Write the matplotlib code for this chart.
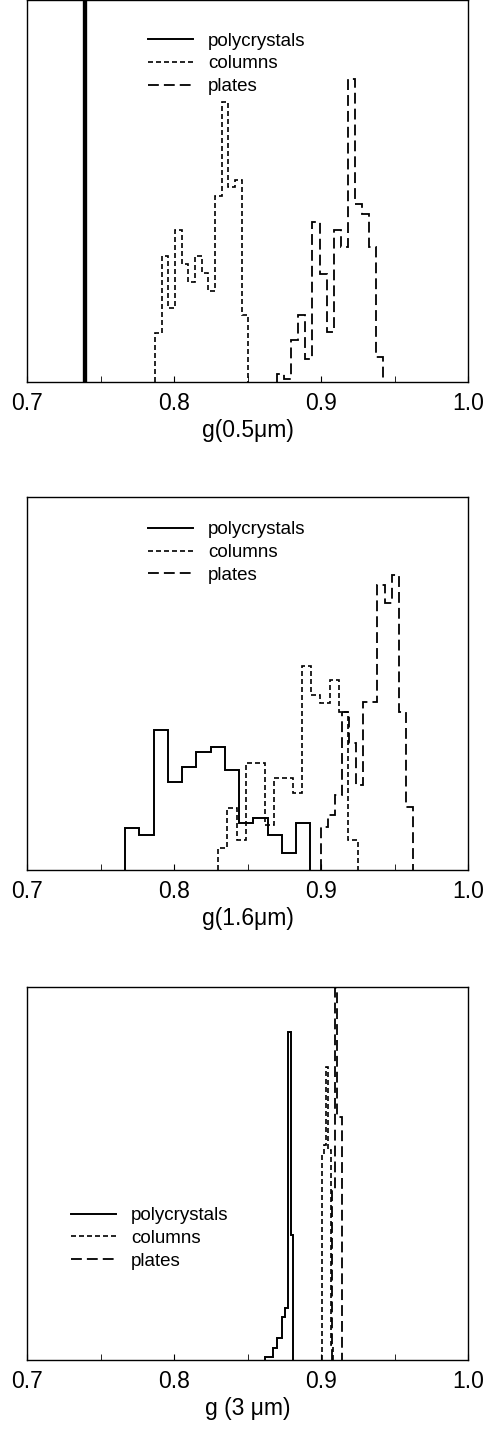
import numpy as np
import matplotlib
matplotlib.use("Agg")
import matplotlib.pyplot as plt
from matplotlib.lines import Line2D

plt.rcParams['font.family'] = ['Liberation Sans', 'DejaVu Sans']

# ---- panel 1 : g(0.5um) -------------------------------------------------
P1_POLY_EDGES = [0.7385, 0.7392]
P1_POLY_VALS = [2000]
P1_COL_START, P1_COL_WIDTH = 0.7872, 0.00452
P1_COL_VALS = [49, 126, 74, 152, 118, 100, 126, 109, 91, 186, 280, 195, 202, 67]
P1_PLA_START, P1_PLA_WIDTH = 0.8702, 0.0048
P1_PLA_VALS = [8, 3, 42, 67, 23, 160, 108, 50, 152, 135, 303, 178, 168, 135, 25]

# ---- panel 2 : g(1.6um) -------------------------------------------------
P2_POLY_START, P2_POLY_WIDTH = 0.7667, 0.0097
P2_POLY_VALS = [42, 35, 140, 88, 103, 118, 123, 100, 47, 52, 35, 17, 47]
P2_COL_START, P2_COL_WIDTH = 0.8300, 0.00633
P2_COL_VALS = [22, 62, 30, 107, 107, 45, 92, 92, 77, 204, 175, 167, 190, 158, 30]
P2_PLA_START, P2_PLA_WIDTH = 0.9000, 0.0048
P2_PLA_VALS = [43, 55, 75, 158, 127, 85, 168, 168, 285, 267, 295, 158, 63]

# ---- panel 3 : g(3um) ---------------------------------------------------
P3_POLY_EDGES = [0.8619, 0.8676, 0.8698, 0.8732, 0.8755, 0.8778, 0.8794, 0.8812]
P3_POLY_VALS = [3, 12, 22, 43, 52, 328, 125]
P3_COL_EDGES = [0.9005, 0.9020, 0.9035, 0.9050, 0.9065, 0.9080]
P3_COL_VALS = [205, 215, 293, 210, 15]
P3_PLA_EDGES = [0.9075, 0.9092, 0.9108, 0.9140]
P3_PLA_VALS = [170, 372, 243]

XLABELS = ["g(0.5\u03bcm)", "g(1.6\u03bcm)", "g (3 \u03bcm)"]
LEGEND_LABELS = ["polycrystals", "columns", "plates"]

STY_POLY = dict(color="k", lw=1.4, linestyle="-")
STY_COL = dict(color="k", lw=1.2, linestyle=(0, (3.0, 1.8)))
STY_PLA = dict(color="k", lw=1.3, linestyle=(0, (6.0, 2.8)))


def edges(start, width, n):
    return start + width * np.arange(n + 1)


fig = plt.figure(figsize=(4.89, 14.31), dpi=100)
W, H = 489.0, 1431.0


def make_ax(top_px, bot_px):
    ax = fig.add_axes([27 / W, (H - bot_px) / H, 441 / W, (bot_px - top_px) / H])
    ax.set_xlim(0.7, 1.0)
    ax.set_ylim(0, bot_px - top_px)
    ax.set_xticks([0.7, 0.8, 0.9, 1.0])
    ax.set_xticklabels(["0.7", "0.8", "0.9", "1.0"])
    ax.set_xticks([0.75, 0.85, 0.95], minor=True)
    ax.set_yticks([])
    ax.tick_params(axis="x", which="both", direction="in", length=4,
                   labelsize=16.5, pad=7, top=False)
    for s in ax.spines.values():
        s.set_linewidth(1.0)
    return ax


def add_legend(ax, loc_xy):
    handles = [Line2D([], [], **STY_POLY), Line2D([], [], **STY_COL),
               Line2D([], [], **STY_PLA)]
    ax.legend(handles, LEGEND_LABELS, loc="upper left", bbox_to_anchor=loc_xy,
              frameon=False, fontsize=13.5, handlelength=2.4,
              handletextpad=0.8, labelspacing=0.3, borderpad=0, borderaxespad=0)


# panel 1
ax1 = make_ax(0, 382)
ax1.stairs(P1_POLY_VALS, P1_POLY_EDGES, color="k", lw=2.4)
ax1.stairs(P1_COL_VALS, edges(P1_COL_START, P1_COL_WIDTH, len(P1_COL_VALS)), **STY_COL)
ax1.stairs(P1_PLA_VALS, edges(P1_PLA_START, P1_PLA_WIDTH, len(P1_PLA_VALS)), **STY_PLA)
ax1.set_xlabel(XLABELS[0], fontsize=16.5, labelpad=3)
add_legend(ax1, (0.275, 0.915))

# panel 2
ax2 = make_ax(497, 870)
ax2.stairs(P2_POLY_VALS, edges(P2_POLY_START, P2_POLY_WIDTH, len(P2_POLY_VALS)), **STY_POLY)
ax2.stairs(P2_COL_VALS, edges(P2_COL_START, P2_COL_WIDTH, len(P2_COL_VALS)), **STY_COL)
ax2.stairs(P2_PLA_VALS, edges(P2_PLA_START, P2_PLA_WIDTH, len(P2_PLA_VALS)), **STY_PLA)
ax2.set_xlabel(XLABELS[1], fontsize=16.5, labelpad=3)
add_legend(ax2, (0.275, 0.935))

# panel 3
ax3 = make_ax(987, 1360)
ax3.stairs(P3_POLY_VALS, P3_POLY_EDGES, **STY_POLY)
ax3.stairs(P3_COL_VALS, P3_COL_EDGES, **STY_COL)
ax3.stairs(P3_PLA_VALS, P3_PLA_EDGES, **STY_PLA)
ax3.set_xlabel(XLABELS[2], fontsize=16.5, labelpad=3)
add_legend(ax3, (0.1, 0.41))

fig.savefig("out.png", dpi=100)
